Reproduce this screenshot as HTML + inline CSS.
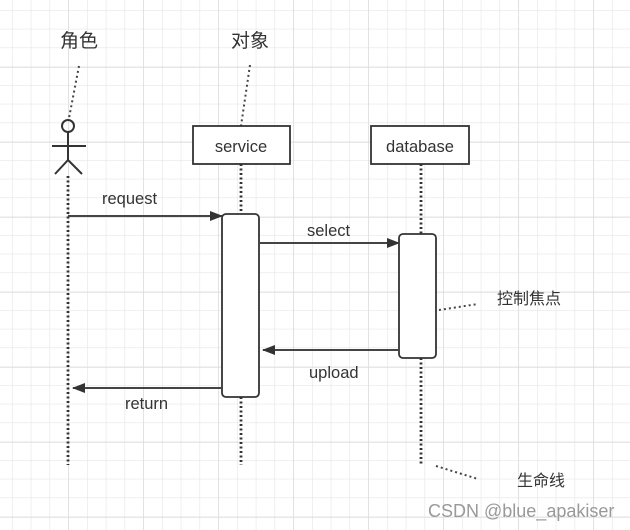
<!DOCTYPE html>
<html><head><meta charset="utf-8"><style>
html,body{margin:0;padding:0;background:#fff;}
svg{display:block;}
text{font-family:"Liberation Sans","Noto Sans CJK SC",sans-serif;fill:#333;}
</style></head><body>
<svg width="630" height="530" xmlns="http://www.w3.org/2000/svg">
<defs>
<pattern id="g" x="12" y="10" width="18.75" height="18.75" patternUnits="userSpaceOnUse">
<path d="M0 0H18.75M0 0V18.75" stroke="#e6e6e6" stroke-width="1.2" fill="none"/>
</pattern>
<pattern id="G" x="68" y="67" width="75" height="75" patternUnits="userSpaceOnUse">
<path d="M0 0H75M0 0V75" stroke="#dadada" stroke-width="1.3" fill="none"/>
</pattern>
<marker id="a" markerWidth="13" markerHeight="10" refX="12" refY="5" orient="auto" markerUnits="userSpaceOnUse">
<path d="M0 0L13 5L0 10Z" fill="#333"/></marker>
</defs>
<rect width="630" height="530" fill="url(#g)"/>
<rect width="630" height="530" fill="url(#G)"/>
<g stroke="#333" fill="none" stroke-width="2">
<circle cx="68" cy="126" r="6"/>
<path d="M52 146H86M68 132V160L55 174M68 160L82 174"/>
</g>
<g stroke="#333" stroke-width="2.8" stroke-dasharray="2,2.5" fill="none">
<path d="M68 176V465M241 164V214M241 397V465M421 164V234M421 358V465"/>
</g>
<g stroke="#444" stroke-width="2" stroke-dasharray="2,3" fill="none">
<path d="M79 66L69 118M250 65L241 126M439 310L478 304M436 466L478 479"/>
</g>
<g stroke="#333" stroke-width="1.8" fill="#fff">
<rect x="193" y="126" width="97" height="38"/>
<rect x="371" y="126" width="98" height="38"/>
<rect x="222" y="214" width="37" height="183" rx="4"/>
<rect x="399" y="234" width="37" height="124" rx="4"/>
</g>
<g stroke="#444" stroke-width="2" fill="none" marker-end="url(#a)">
<path d="M68 216H222"/>
<path d="M259 243H399"/>
<path d="M399 350H263"/>
<path d="M222 388H73"/>
</g>
<g font-size="16.5">
<text x="241" y="152" text-anchor="middle">service</text>
<text x="420" y="152" text-anchor="middle">database</text>
<text x="102" y="204">request</text>
<text x="307" y="236">select</text>
<text x="309" y="378">upload</text>
<text x="125" y="409">return</text>
</g>
<text x="60" y="47" font-size="19">角色</text>
<text x="231" y="47" font-size="19">对象</text>
<text x="497" y="304" font-size="16">控制焦点</text>
<text x="517" y="486" font-size="16">生命线</text>
<text x="428" y="517" font-size="18" style="fill:#999">CSDN @blue_apakiser</text>
</svg>
</body></html>
